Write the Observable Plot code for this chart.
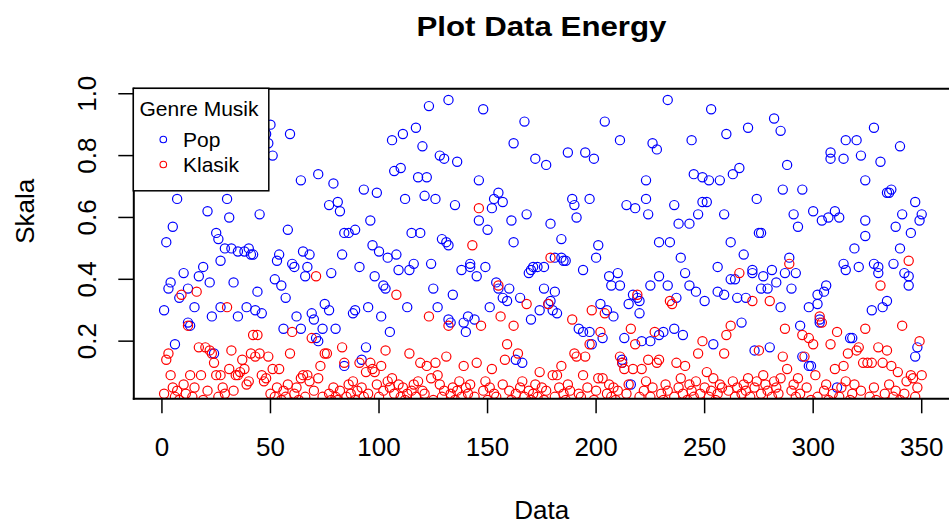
<!DOCTYPE html>
<html>
<head>
<meta charset="utf-8">
<script src="https://cdn.jsdelivr.net/npm/d3@7"></script>
<script src="https://cdn.jsdelivr.net/npm/@observablehq/plot@0.6"></script>
<style>
  html, body { margin: 0; padding: 0; background: #ffffff; }
  svg { display: block; }
</style>
</head>
<body>
<div id="chart"></div>
<script>
const chartTitle = "Plot Data Energy";
const xLabel = "Data";
const yLabel = "Skala";
const legendTitle = "Genre Musik";
const seriesNames = ["Pop", "Klasik"];
const seriesColors = ["#0000ff", "#ff0000"];
const xTicks = [0, 50, 100, 150, 200, 250, 300, 350];
const yTicks = [0.2, 0.4, 0.6, 0.8, 1.0];

const popIndex = [1,2,3,4,5,6,7,8,10,12,12,13,15,17,19,21,22,23,24,25,26,27,27,29,30,31,32,33,35,35,
38,39,40,41,42,43,44,45,46,48,49,50,51,52,53,54,55,56,57,58,59,60,61,62,64,64,65,66,67,68,69,70,71,72,72,74,75,77,77,78,79,80,81,82,83,84,84,
86,88,89,89,91,92,93,94,95,96,97,98,99,100,101,102,103,104,105,106,107,108,109,110,111,112,113,114,115,116,117,118,119,120,121,122,123,124,125,126,127,128,129,130,131,
132,132,132,133,134,135,136,138,139,140,141,142,142,144,145,146,146,148,149,150,151,152,153,154,155,155,157,157,159,160,161,162,162,163,165,166,167,168,169,170,170,171,172,173,174,176,176,177,178,179,179,180,
181,181,182,184,184,185,186,187,189,190,191,192,194,194,195,197,197,198,199,200,201,202,203,204,205,206,207,208,210,211,211,212,212,213,214,215,216,217,218,219,220,220,221,223,223,224,225,225,226,228,229,229,229,
231,233,233,234,236,236,237,238,239,240,241,243,243,244,245,246,247,249,249,250,251,252,253,254,256,256,257,259,259,260,262,262,263,264,265,266,267,268,269,270,272,272,273,274,275,276,276,277,
279,280,281,282,283,285,285,286,287,288,289,290,291,292,293,294,295,295,298,298,299,300,302,302,303,303,304,305,306,307,308,308,310,311,312,314,314,315,315,317,318,319,320,321,322,324,324,324,
327,328,328,330,330,331,332,334,334,335,336,337,338,340,340,341,342,344,344,345,347,347,348,349,350];
const popEnergy = [0.30,0.52,0.37,0.39,0.57,0.19,0.66,0.34,0.42,0.37,0.26,0.25,0.31,0.41,0.44,0.62,0.39,0.28,0.16,0.55,0.53,0.46,0.31,0.50,0.66,0.60,0.50,0.39,0.28,0.49,
0.49,0.31,0.50,0.48,0.48,0.30,0.36,0.61,0.29,0.87,0.84,0.90,0.80,0.40,0.46,0.48,0.38,0.24,0.34,0.56,0.87,0.45,0.44,0.28,0.72,0.24,0.49,0.41,0.44,0.48,0.29,0.27,0.21,0.74,0.20,0.24,0.32,0.30,0.64,0.42,0.71,0.24,0.65,0.62,0.48,0.55,0.12,
0.55,0.29,0.56,0.30,0.44,0.14,0.69,0.18,0.31,0.59,0.51,0.41,0.68,0.49,0.28,0.38,0.37,0.47,0.23,0.85,0.75,0.48,0.43,0.76,0.87,0.66,0.31,0.43,0.55,0.45,0.89,0.73,0.55,0.83,0.67,0.73,0.96,0.45,0.37,0.66,0.31,0.80,0.53,0.79,0.52,
0.98,0.51,0.27,0.26,0.35,0.64,0.78,0.43,0.26,0.23,0.28,0.45,0.44,0.27,0.41,0.72,0.59,0.95,0.44,0.56,0.31,0.63,0.66,0.39,0.68,0.37,0.65,0.34,0.33,0.37,0.59,0.52,0.84,0.14,0.34,0.13,0.91,0.61,0.42,0.43,0.27,0.44,0.79,0.44,0.30,0.44,0.37,0.77,0.32,0.58,0.33,0.30,
0.47,0.36,0.29,0.53,0.47,0.46,0.46,0.81,0.66,0.64,0.60,0.24,0.43,0.23,0.81,0.66,0.23,0.19,0.79,0.47,0.51,0.32,0.21,0.91,0.30,0.41,0.38,0.28,0.42,0.38,0.85,0.14,0.13,0.21,0.64,0.32,0.06,0.35,0.63,0.34,0.33,0.29,0.20,0.72,0.66,0.61,0.38,0.20,0.84,0.82,0.52,0.41,0.22,
0.23,0.98,0.38,0.52,0.64,0.24,0.34,0.58,0.47,0.22,0.42,0.38,0.58,0.85,0.74,0.36,0.61,0.73,0.65,0.33,0.65,0.72,0.95,0.19,0.44,0.36,0.72,0.61,0.35,0.87,0.40,0.52,0.74,0.40,0.34,0.76,0.26,0.48,0.34,0.89,0.43,0.42,0.17,0.66,0.55,0.55,0.37,0.41,
0.37,0.18,0.43,0.92,0.39,0.88,0.31,0.69,0.42,0.77,0.47,0.37,0.61,0.42,0.57,0.25,0.69,0.15,0.31,0.12,0.12,0.62,0.35,0.32,0.27,0.26,0.59,0.36,0.38,0.60,0.79,0.81,0.62,0.05,0.60,0.79,0.45,0.43,0.85,0.21,0.21,0.50,0.85,0.44,0.80,0.59,0.54,0.72,
0.30,0.89,0.45,0.44,0.42,0.78,0.31,0.68,0.33,0.68,0.69,0.45,0.57,0.83,0.50,0.61,0.42,0.41,0.38,0.55,0.65,0.15,0.18,0.59,0.61];

const klasikEnergy = [
0.03,0.14,0.16,0.09,0.05,0.02,0.04,0.01,0.35,0.06,
0.03,0.25,0.09,0.02,0.05,0.36,0.18,0.09,0.01,0.18,
0.04,0.17,0.16,0.13,0.09,0.02,0.09,0.05,0.03,0.31,
0.11,0.17,0.04,0.09,0.09,0.10,0.14,0.11,0.06,0.07,
0.16,0.22,0.15,0.22,0.16,0.09,0.07,0.08,0.15,0.03,
0.11,0.02,0.05,0.11,0.01,0.04,0.02,0.06,0.16,0.23,
0.03,0.05,0.01,0.08,0.09,0.02,0.09,0.07,0.21,0.04,
0.41,0.08,0.12,0.02,0.16,0.16,0.03,0.01,0.05,0.02,
0.01,0.04,0.18,0.13,0.02,0.06,0.03,0.07,0.01,0.04,
0.13,0.05,0.02,0.10,0.03,0.13,0.11,0.10,0.06,0.02,
0.12,0.04,0.17,0.07,0.05,0.08,0.03,0.35,0.06,0.02,
0.05,0.01,0.03,0.16,0.04,0.06,0.02,0.07,0.13,0.04,
0.03,0.12,0.28,0.08,0.01,0.13,0.09,0.06,0.02,0.04,
0.15,0.25,0.03,0.05,0.01,0.04,0.07,0.02,0.12,0.05,
0.03,0.06,0.51,0.02,0.13,0.63,0.25,0.04,0.07,0.01,
0.05,0.11,0.03,0.02,0.38,0.28,0.06,0.14,0.19,0.04,
0.01,0.25,0.03,0.16,0.05,0.07,0.02,0.32,0.04,0.01,
0.03,0.06,0.02,0.10,0.05,0.01,0.04,0.32,0.47,0.09,
0.02,0.09,0.05,0.12,0.03,0.01,0.06,0.04,0.27,0.16,
0.15,0.03,0.02,0.09,0.15,0.05,0.19,0.30,0.01,0.04,
0.08,0.23,0.08,0.29,0.03,0.06,0.02,0.05,0.01,0.04,
0.15,0.13,0.11,0.03,0.06,0.24,0.11,0.19,0.35,0.02,
0.11,0.04,0.07,0.14,0.02,0.05,0.23,0.13,0.14,0.03,
0.01,0.06,0.04,0.33,0.32,0.02,0.13,0.05,0.08,0.03,
0.12,0.01,0.06,0.04,0.02,0.07,0.16,0.03,0.20,0.05,
0.10,0.02,0.04,0.08,0.01,0.03,0.06,0.05,0.16,0.22,
0.04,0.25,0.07,0.02,0.05,0.42,0.03,0.06,0.04,0.08,
0.02,0.33,0.05,0.07,0.17,0.03,0.09,0.06,0.04,0.33,
0.02,0.07,0.05,0.03,0.08,0.15,0.24,0.11,0.45,0.04,
0.06,0.02,0.08,0.03,0.22,0.15,0.05,0.21,0.01,0.19,
0.09,0.02,0.28,0.26,0.04,0.06,0.01,0.19,0.03,0.11,
0.23,0.02,0.05,0.12,0.07,0.16,0.01,0.03,0.06,0.17,
0.18,0.04,0.13,0.24,0.13,0.02,0.13,0.05,0.01,0.18,
0.38,0.13,0.03,0.17,0.06,0.12,0.02,0.04,0.10,0.01,
0.25,0.03,0.07,0.46,0.09,0.08,0.02,0.05,0.20,0.09];
const klasikIndex = klasikEnergy.map((_, i) => i + 1);

const pop = popIndex.map((x, i) => ({x, y: popEnergy[i]}));
const klasik = klasikIndex.map((x, i) => ({x, y: klasikEnergy[i]}));

const font = "'Liberation Sans', Arial, sans-serif";
const W = 949, H = 528;
const mL = 133.3, mT = 88.3, mB = 129.7, mR = 0;

const svg = Plot.plot({
  width: W, height: H,
  marginLeft: mL, marginRight: mR, marginTop: mT, marginBottom: mB,
  style: {fontFamily: font, background: "#ffffff", color: "#000000", overflow: "visible"},
  x: {domain: [-12.96, 362.8], axis: null},
  y: {domain: [0.0136, 1.016], axis: null},
  marks: [
    Plot.dot(pop, {x: "x", y: "y", r: 4.6, stroke: seriesColors[0], strokeWidth: 1.2, clip: true}),
    Plot.dot(klasik, {x: "x", y: "y", r: 4.6, stroke: seriesColors[1], strokeWidth: 1.2, clip: true}),
    Plot.frame({anchor: "top", stroke: "#000", strokeWidth: 2}),
    Plot.frame({anchor: "left", stroke: "#000", strokeWidth: 2}),
    Plot.frame({anchor: "bottom", stroke: "#000", strokeWidth: 2}),
    Plot.axisX(xTicks, {tickSize: 15, tickFormat: () => "", label: null, strokeWidth: 1.5}),
    Plot.axisY(yTicks, {tickSize: 15, tickFormat: () => "", label: null, strokeWidth: 1.5}),
    Plot.text(xTicks, {x: d => d, frameAnchor: "bottom", dy: 38.5, lineAnchor: "top", text: d => String(d), fontSize: 26, fill: "#000"}),
    Plot.text(yTicks, {y: d => d, frameAnchor: "left", dx: -38, rotate: -90, lineAnchor: "bottom", textAnchor: "middle", text: d => d.toFixed(1), fontSize: 26, fill: "#000"}),
    Plot.text([xLabel], {frameAnchor: "bottom", dy: 101.5, lineAnchor: "top", text: d => d, fontSize: 26, fill: "#000"}),
    Plot.text([yLabel], {frameAnchor: "left", dx: -100, rotate: -90, lineAnchor: "bottom", text: d => d, fontSize: 26, fill: "#000"})
  ]
});

// Title
const s = d3.select(svg);
s.append("text")
  .attr("x", 541.5).attr("y", 35.7)
  .attr("text-anchor", "middle")
  .attr("font-family", font).attr("font-weight", "bold").attr("font-size", 27)
  .attr("textLength", 250).attr("lengthAdjust", "spacingAndGlyphs")
  .attr("fill", "#000")
  .text(chartTitle);

// Legend
const lg = s.append("g");
lg.append("rect").attr("x", 133.3).attr("y", 88.3).attr("width", 135.5).attr("height", 102.5)
  .attr("fill", "#ffffff").attr("stroke", "#000").attr("stroke-width", 1.5);
lg.append("text").attr("x", 199).attr("y", 115.7).attr("text-anchor", "middle")
  .attr("font-family", font).attr("font-size", 21).attr("fill", "#000").text(legendTitle);
seriesNames.forEach((name, i) => {
  const cy = 139.5 + i * 25;
  lg.append("circle").attr("cx", 163.3).attr("cy", cy).attr("r", 3.3)
    .attr("fill", "none").attr("stroke", seriesColors[i]).attr("stroke-width", 1.1);
  lg.append("text").attr("x", 183).attr("y", cy + 7.5).attr("text-anchor", "start")
    .attr("font-family", font).attr("font-size", 21).attr("fill", "#000").text(name);
});

document.getElementById("chart").appendChild(svg);
</script>
</body>
</html>
